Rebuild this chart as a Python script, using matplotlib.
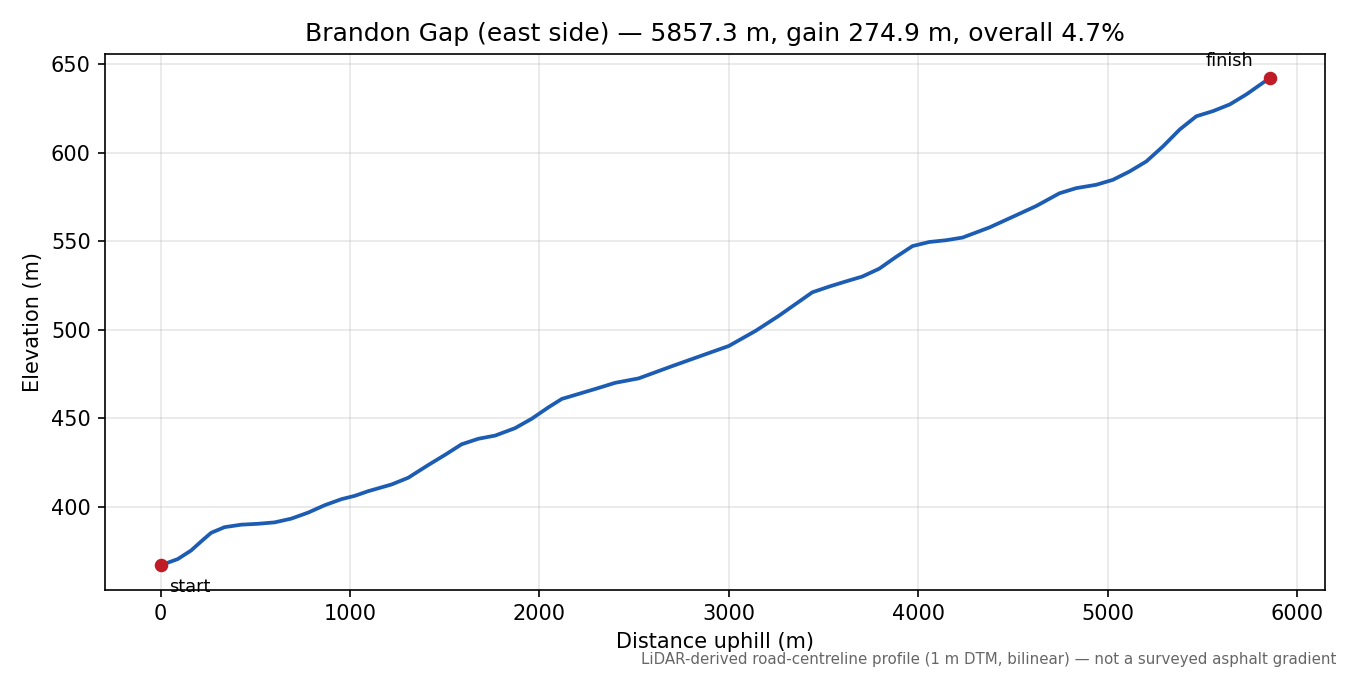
import matplotlib

matplotlib.use("Agg")
import matplotlib.pyplot as plt

# Distance along the road (m) and elevation (m)
DIST_M = [0, 90, 160, 213, 266, 337, 425, 513, 601, 689, 778, 866, 954,
          1025, 1095, 1219, 1307, 1413, 1501, 1589, 1677, 1766, 1871, 1959,
          2048, 2118, 2206, 2303, 2400, 2524, 2700, 2876, 3000, 3141, 3265,
          3353, 3441, 3529, 3617, 3705, 3794, 3882, 3970, 4058, 4147, 4234,
          4314, 4376, 4499, 4623, 4746, 4834, 4940, 5028, 5116, 5205, 5293,
          5381, 5469, 5557, 5646, 5734, 5822, 5857.3]
ELEV_M = [367.1, 370.6, 375.4, 380.5, 385.4, 388.6, 390.0, 390.5, 391.3,
          393.4, 396.8, 401.0, 404.4, 406.3, 408.9, 412.7, 416.5, 423.7,
          429.4, 435.4, 438.5, 440.3, 444.5, 449.8, 456.3, 461.0, 463.8,
          466.9, 470.1, 472.6, 479.5, 486.2, 490.9, 499.4, 508.0, 514.6,
          521.2, 524.4, 527.3, 530.1, 534.5, 541.1, 547.3, 549.6, 550.6,
          552.1, 555.3, 557.8, 563.8, 569.9, 577.1, 580.0, 581.9, 584.7,
          589.4, 595.1, 603.6, 613.1, 620.6, 623.5, 627.3, 633.0, 639.6,
          642.0]

TITLE = "Brandon Gap (east side) \u2014 5857.3 m, gain 274.9 m, overall 4.7%"
NOTE = ("LiDAR-derived road-centreline profile (1 m DTM, bilinear) \u2014 "
        "not a surveyed asphalt gradient")

LINE_COLOR = "#1c5db3"
DOT_COLOR = "#c01c28"

fig, ax = plt.subplots(figsize=(9, 4.5), dpi=150)
ax.plot(DIST_M, ELEV_M, color=LINE_COLOR, linewidth=1.8,
        solid_joinstyle="round")
ax.plot([DIST_M[0], DIST_M[-1]], [ELEV_M[0], ELEV_M[-1]], "o",
        color=DOT_COLOR, markersize=5.5)
ax.annotate("start", (DIST_M[0], ELEV_M[0]), xytext=(4, -6),
            textcoords="offset points", ha="left", va="top", fontsize=8.5)
ax.annotate("finish", (DIST_M[-1], ELEV_M[-1]), xytext=(-8, 4),
            textcoords="offset points", ha="right", va="bottom", fontsize=8.5)

ax.set_title(TITLE)
ax.set_xlabel("Distance uphill (m)")
ax.set_ylabel("Elevation (m)")
ax.grid(True, alpha=0.3)

fig.tight_layout()
fig.text(0.99, 0.012, NOTE, ha="right", va="bottom", fontsize=7.2, color="0.4")
fig.savefig("out.png", dpi=150)
